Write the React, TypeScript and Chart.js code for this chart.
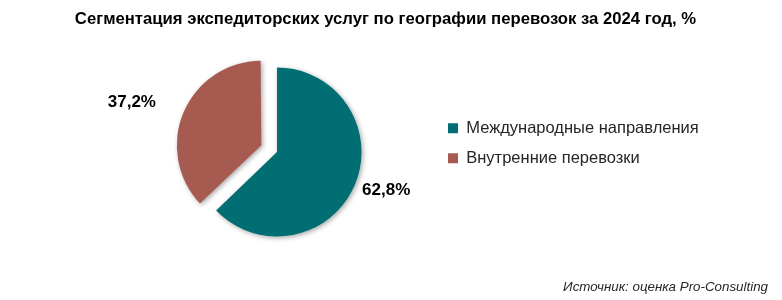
import React, { useEffect, useRef } from 'react';
import { Chart, registerables } from 'chart.js';

Chart.register(...registerables);

const titleText = 'Сегментация экспедиторских услуг по географии перевозок за 2024 год, %';
const sourceText = 'Источник: оценка Pro-Consulting';
const categories = ['Международные направления', 'Внутренние перевозки'];
const shares = [62.8, 37.2];
const valueLabels = ['62,8%', '37,2%'];
const sliceColors = ['#006e73', '#a75a4f'];
const sliceOffsets = [0, 68];
const labelGaps = [8, 30];

const FONT = "'Liberation Sans', Arial, sans-serif";

const pieDecor = {
  id: 'pieDecor',
  afterDatasetsUpdate(chart: any) {
    const meta = chart.getDatasetMeta(0);
    meta.data.forEach((el: any) => {
      const off = (el.options.offset || 0) / 4;
      if (!off) return;
      const fix = 1 - Math.sin(Math.min(Math.PI, el.circumference || 0));
      el.outerRadius -= off * fix;
    });
  },
  beforeDatasetsDraw(chart: any) {
    const ctx = chart.ctx;
    ctx.save();
    ctx.shadowColor = 'rgba(0,0,0,0.35)';
    ctx.shadowBlur = 5;
    ctx.shadowOffsetX = 1.5;
    ctx.shadowOffsetY = 1.5;
  },
  afterDatasetsDraw(chart: any) {
    const ctx = chart.ctx;
    ctx.restore();
    const meta = chart.getDatasetMeta(0);
    ctx.save();
    ctx.font = `bold 17px ${FONT}`;
    ctx.fillStyle = '#000';
    ctx.textBaseline = 'middle';
    meta.data.forEach((el: any, i: number) => {
      const off = (el.options.offset || 0) / 4;
      const fix = 1 - Math.sin(Math.min(Math.PI, el.circumference || 0));
      const r = el.outerRadius + off * fix;
      const mid = (el.startAngle + el.endAngle) / 2;
      const cx = el.x + Math.cos(mid) * off;
      const cy = el.y + Math.sin(mid) * off;
      const d = r + labelGaps[i];
      const ax = cx + Math.cos(mid) * d;
      const ay = cy + Math.sin(mid) * d + 2;
      ctx.textAlign = Math.cos(mid) >= 0 ? 'left' : 'right';
      ctx.fillText(valueLabels[i], ax, ay);
    });
    ctx.restore();
  },
  afterDraw(chart: any) {
    const ctx = chart.ctx;
    ctx.save();
    ctx.fillStyle = '#000';
    ctx.font = `bold 16.7px ${FONT}`;
    ctx.textAlign = 'center';
    ctx.textBaseline = 'middle';
    ctx.fillText(titleText, 385.5, 19);
    ctx.font = `italic 13.35px ${FONT}`;
    ctx.fillStyle = '#262626';
    ctx.textAlign = 'right';
    ctx.fillText(sourceText, 768, 287);
    ctx.restore();
  },
};

export default function App() {
  const ref = useRef<HTMLCanvasElement>(null);
  useEffect(() => {
    const canvas = ref.current!;
    const chart = new Chart(canvas, {
      type: 'pie',
      data: {
        labels: categories,
        datasets: [
          {
            data: shares,
            backgroundColor: sliceColors,
            borderWidth: 0,
            offset: sliceOffsets,
            radius: 84.5,
            clip: false,
          } as any,
        ],
      },
      options: {
        responsive: false,
        animation: false,
        events: [],
        layout: { padding: { left: 119.5, right: 73.25, top: 106.5, bottom: 102.5 } },
        plugins: {
          title: { display: false },
          tooltip: { enabled: false },
          legend: {
            display: true,
            position: 'right',
            align: 'start',
            labels: {
              boxWidth: 10,
              boxHeight: 10,
              padding: 13.5,
              color: '#262626',
              font: { family: FONT, size: 16.5 },
            },
          },
        },
      },
      plugins: [pieDecor],
    });
    return () => chart.destroy();
  }, []);
  return (
    <div style={{ position: 'absolute', left: 0, top: 0, width: 782, height: 300, background: '#fff' }}>
      <canvas ref={ref} width={782} height={300} style={{ display: 'block' }} />
    </div>
  );
}
